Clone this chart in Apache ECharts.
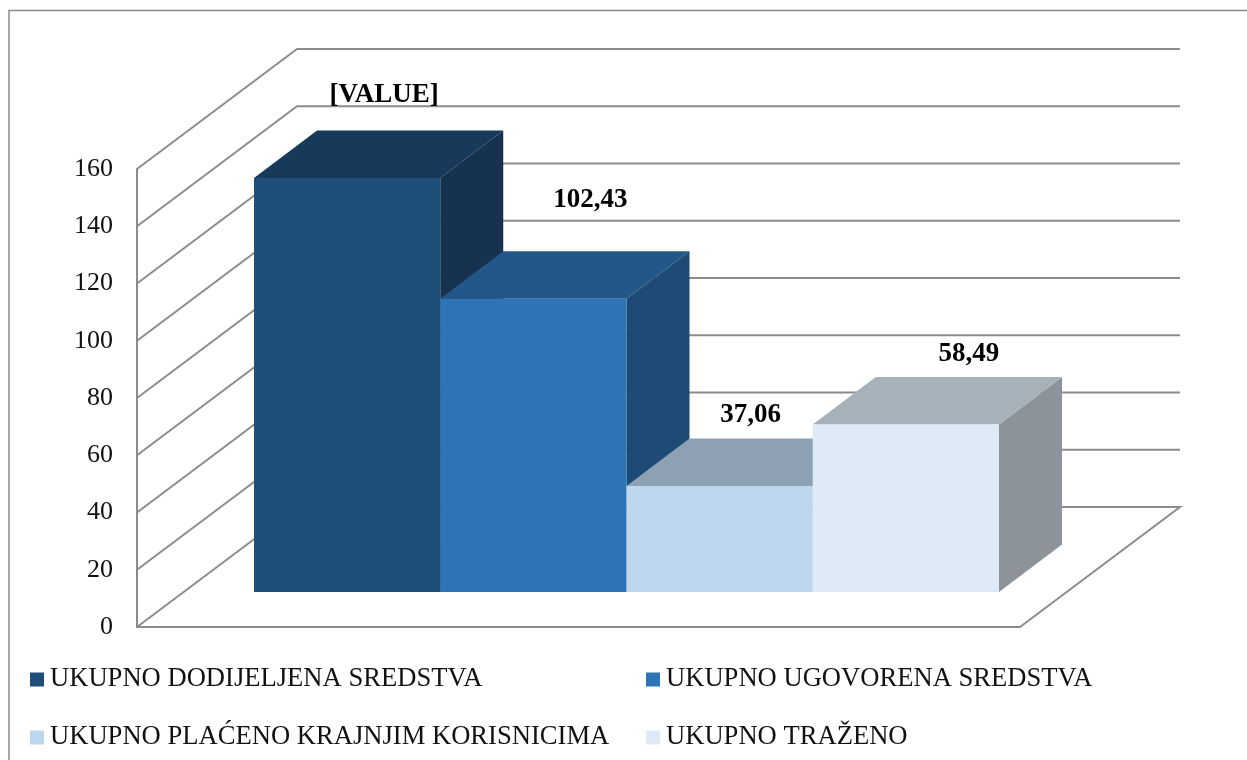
<!DOCTYPE html>
<html>
<head>
<meta charset="utf-8">
<title>Sredstva</title>
<style>
  html, body { margin: 0; padding: 0; background: #fff; overflow: hidden; }
  #chart { width: 1247px; height: 760px; }
</style>
<script src="https://cdn.jsdelivr.net/npm/echarts@6/dist/echarts.min.js"></script>
</head>
<body>
<div id="chart"></div>
<script>
// data
const categories = ['UKUPNO DODIJELJENA SREDSTVA', 'UKUPNO UGOVORENA SREDSTVA', 'UKUPNO PLAĆENO KRAJNJIM KORISNICIMA', 'UKUPNO TRAŽENO']
const values = [144.6, 102.43, 37.06, 58.49]
const valueLabels = ['[VALUE]', '102,43', '37,06', '58,49']
const yTicks = [0, 20, 40, 60, 80, 100, 120, 140, 160]

const FONT = '"Liberation Serif", "Times New Roman", serif'
const LINE = '#8c8c8c'
const frontColors = ['#1f4e79', '#2e75b6', '#bdd7ee', '#deebf7']
const topColors = ['#17395a', '#225788', '#8ea1b3', '#a7b1ba']
const sideColors = ['#16324f', '#1d4b76', '#7f93a5', '#8c9399']
// hand placed labels, same as the source chart (dx, dy from top front centre of the bar)
const labelShift = [[37, -83], [57, -99], [31, -71], [63, -71]]

// depth of the fake 3d box
const WALL_DX = 160, WALL_DY = -120
const BAR_DX = 63, BAR_DY = -47.5

function renderWall (params, api) {
  let v = api.value(0)
  let a = api.coord([0, v])
  let b = api.coord([1, v])
  let pts = [a, [a[0] + WALL_DX, a[1] + WALL_DY], [b[0] + WALL_DX, b[1] + WALL_DY]]
  if (v === 0) pts.push(b)
  return {
    type: 'polyline',
    shape: { points: pts },
    style: { fill: 'none', stroke: LINE, lineWidth: 2 }
  }
}

function renderBar (params, api) {
  let i = api.value(0)
  let w = api.size([1, 0])[0]
  let top = api.coord([i, api.value(1)])
  let base = api.coord([i, 0])
  let l = top[0] - w / 2
  let r = top[0] + w / 2
  return {
    type: 'group',
    children: [
      {
        type: 'polygon',
        shape: { points: [[r, top[1]], [r + BAR_DX, top[1] + BAR_DY], [r + BAR_DX, base[1] + BAR_DY], [r, base[1]]] },
        style: { fill: sideColors[i] }
      },
      {
        type: 'polygon',
        shape: { points: [[l, top[1]], [l + BAR_DX, top[1] + BAR_DY], [r + BAR_DX, top[1] + BAR_DY], [r, top[1]]] },
        style: { fill: topColors[i] }
      },
      {
        type: 'rect',
        shape: { x: l, y: top[1], width: w, height: base[1] - top[1] },
        style: { fill: frontColors[i] }
      },
      {
        type: 'text',
        z2: 10,
        style: {
          x: top[0] + labelShift[i][0],
          y: top[1] + labelShift[i][1],
          text: valueLabels[i],
          align: 'center',
          verticalAlign: 'middle',
          fill: '#000',
          font: 'bold 27px ' + FONT
        }
      }
    ]
  }
}

let chart = echarts.init(document.getElementById('chart'), null, { renderer: 'canvas' })

let barSeries = categories.map(function (name, i) {
  return {
    type: 'custom',
    name: name,
    xAxisIndex: 1,
    yAxisIndex: 1,
    clip: false,
    z: 3,
    itemStyle: { color: frontColors[i] },
    encode: { x: 0, y: 1 },
    renderItem: renderBar,
    data: [[i, values[i]]]
  }
})

let legendBase = {
  orient: 'vertical',
  icon: 'rect',
  padding: 0,
  itemWidth: 14,
  itemHeight: 14,
  itemGap: 31,
  selectedMode: false,
  textStyle: { fontFamily: FONT, fontSize: 26.6, color: '#111', padding: [0, 0, 0, 1] }
}

chart.setOption({
  animation: false,
  backgroundColor: '#fff',
  graphic: [{
    type: 'rect',
    shape: { x: 9, y: 10.5, width: 1400, height: 900 },
    style: { fill: 'none', stroke: '#8a8a8a', lineWidth: 1.5 },
    silent: true
  }],
  legend: [
    Object.assign({}, legendBase, { left: 30, top: 666, data: [categories[0], categories[2]] }),
    Object.assign({}, legendBase, { left: 646, top: 666, data: [categories[1], categories[3]] })
  ],
  grid: [
    { left: 137, width: 883, top: 169, height: 458 },
    { left: 254, width: 745, top: 134, height: 458 }
  ],
  xAxis: [
    {
      type: 'value',
      gridIndex: 0,
      min: 0,
      max: 1,
      axisLine: { show: true, lineStyle: { color: LINE, width: 2 } },
      axisTick: { show: false },
      axisLabel: { show: false },
      splitLine: { show: false }
    },
    { type: 'category', gridIndex: 1, data: categories, show: false }
  ],
  yAxis: [
    {
      type: 'value',
      gridIndex: 0,
      min: 0,
      max: 160,
      interval: 20,
      axisLine: { show: true, lineStyle: { color: LINE, width: 2 } },
      axisTick: { show: false },
      splitLine: { show: false },
      axisLabel: { margin: 24, fontFamily: FONT, fontSize: 26, color: '#111', padding: [4, 0, 0, 0] }
    },
    { type: 'value', gridIndex: 1, min: 0, max: 160, show: false }
  ],
  series: [{
    type: 'custom',
    name: 'wall',
    xAxisIndex: 0,
    yAxisIndex: 0,
    clip: false,
    z: 1,
    encode: { y: 0 },
    renderItem: renderWall,
    data: yTicks.map(function (v) { return [v] })
  }].concat(barSeries)
})
</script>
</body>
</html>
